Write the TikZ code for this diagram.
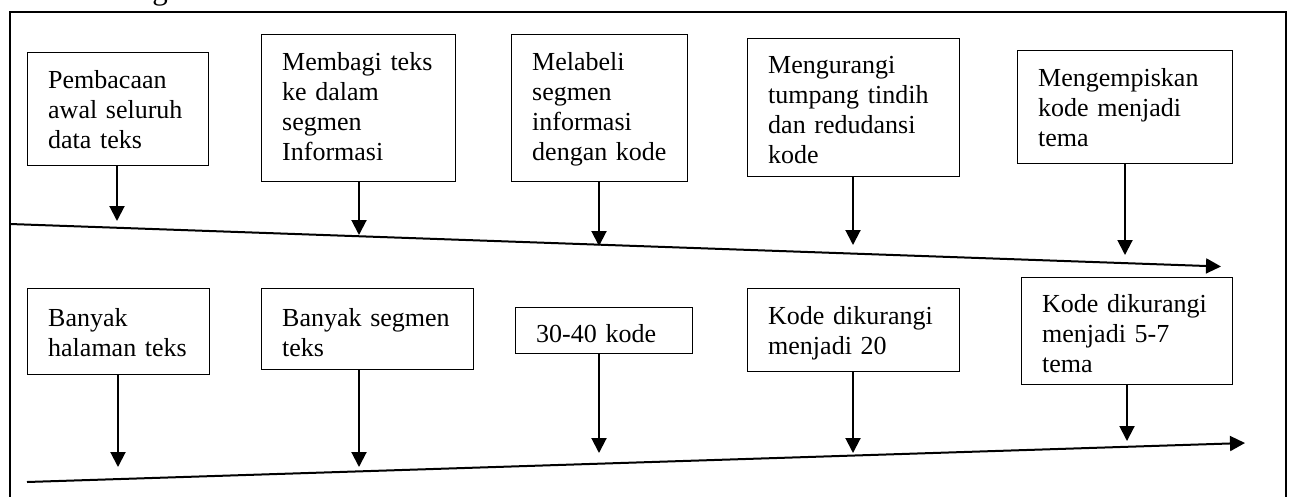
\documentclass[tikz,border=0pt]{standalone}
\usepackage{fontspec}
\setmainfont{Liberation Serif}
\usetikzlibrary{arrows.meta,calc}
\tikzset{
  boxst/.style={draw, line width=1.3pt, inner sep=0pt, anchor=north west},
  txt/.style={anchor=base west, inner sep=0pt, align=left, text width=230pt,
    font=\fontsize{26}{30}\selectfont},
  arr/.style={line width=2pt, -{Triangle[length=15pt,width=15pt]}},
  tline/.style={line width=2pt, -{Triangle[length=15pt,width=15pt]}},
  frame/.style={line width=1.3pt}
}
\newcommand{\mybox}[7]{%
  \node[boxst, minimum width=#4-#2, minimum height=#5-#3] (#1) at (#2,#3) {};
  \node[txt] (#1t) at (#2+21,#3+#6) {#7};
}
\begin{document}
\begin{tikzpicture}[x=1pt,y=-1pt]
\useasboundingbox (0,0) rectangle (1289,496);
\fill[white] (0,0) rectangle (1289,496);
\begin{scope}
\clip (0,0) rectangle (1289,496);
\node[anchor=base west, inner sep=0pt, font=\fontsize{31}{36}\selectfont] (head) at (97,-1) {sebagai berikut:};
\draw[frame] (10,530) -- (10,12) -- (1286,12) -- (1286,530);
\end{scope}

% top row boxes
\mybox{b1}{27}{52}{208}{165}{36}{Pembacaan\\awal seluruh\\data teks}
\mybox{b2}{261}{34}{455}{181}{36}{Membagi teks\\ke dalam\\segmen\\Informasi}
\mybox{b3}{511}{34}{687}{181}{36}{Melabeli\\segmen\\informasi\\dengan kode}
\mybox{b4}{747}{38}{959}{176}{35}{Mengurangi\\tumpang tindih\\dan redudansi\\kode}
\mybox{b5}{1017}{50}{1232}{163}{36}{Mengempiskan\\kode menjadi\\tema}

% bottom row boxes
\mybox{b6}{27}{288}{209}{374}{38}{Banyak\\halaman teks}
\mybox{b7}{261}{288}{473}{369}{38}{Banyak segmen\\teks}
\mybox{b8}{515}{307}{692}{353}{35}{30-40 kode}
\mybox{b9}{747}{288}{959}{371}{36}{Kode dikurangi\\menjadi 20}
\mybox{b10}{1021}{277}{1232}{384}{35}{Kode dikurangi\\menjadi 5-7\\tema}

% timeline lines
\coordinate (L1s) at (10,224);
\coordinate (L1e) at (1221,266.5);
\coordinate (L2s) at (27,482);
\coordinate (L2e) at (1245,443);
\draw[tline] (L1s) -- (L1e);
\draw[tline] (L2s) -- (L2e);

% arrow targets
\coordinate (t1) at (117,221);
\coordinate (t2) at (359,235);
\coordinate (t3) at (599,246);
\coordinate (t4) at (853,245);
\coordinate (t5) at (1125,255);
\coordinate (t6) at (118,467);
\coordinate (t7) at (359,467);
\coordinate (t8) at (599,453);
\coordinate (t9) at (853,453);
\coordinate (t10) at (1127,441);

\foreach \i in {1,...,10}{
  \draw[arr] (b\i.south -| t\i) -- (t\i);
}
\end{tikzpicture}
\end{document}
